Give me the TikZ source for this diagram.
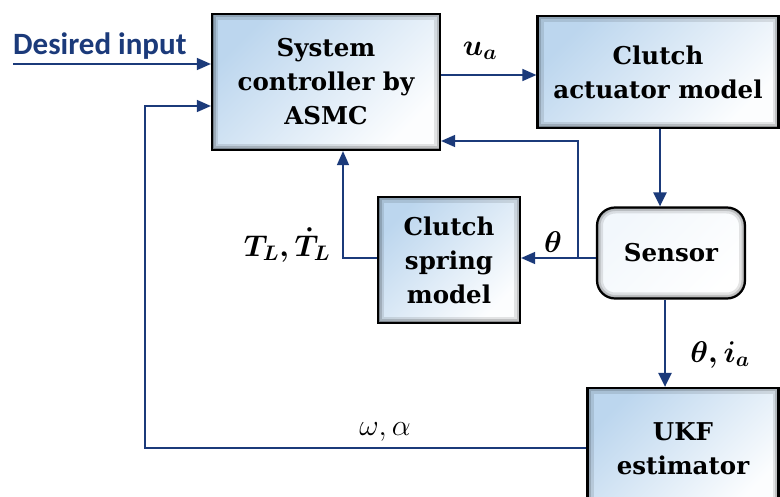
\RequirePackage{fix-cm}
\documentclass[tikz,border=0pt]{standalone}
\usepackage{amsmath}
\usepackage{fontspec}
\newfontfamily\boxfont{DejaVu Serif}
\newfontfamily\desfont{Carlito}
\usetikzlibrary{arrows.meta,calc}
\definecolor{navy}{HTML}{1B3A7A}
\definecolor{boxblue}{HTML}{BCD6EE}
\tikzset{
  blk/.style={draw=black,line width=2.2pt,left color=boxblue,right color=white!96!boxblue,shading angle=45,
    align=center,inner sep=0pt,font=\boxfont\bfseries\fontsize{24.5}{34}\selectfont,
    path picture={
      \draw[line width=12pt,black,opacity=.10] (path picture bounding box.south west) rectangle (path picture bounding box.north east);
      \draw[line width=7pt,black,opacity=.15] (path picture bounding box.south west) rectangle (path picture bounding box.north east);
      \draw[line width=3pt,black,opacity=.25] (path picture bounding box.south west) rectangle (path picture bounding box.north east);}},
  sensbox/.style={draw=black,line width=2.2pt,rounded corners=18pt,left color=white!80!boxblue,right color=white,shading angle=45,
    align=center,inner sep=0pt,font=\boxfont\bfseries\fontsize{24.5}{34}\selectfont,
    path picture={
      \draw[line width=12pt,black,opacity=.10,rounded corners=18pt] (path picture bounding box.south west) rectangle (path picture bounding box.north east);
      \draw[line width=7pt,black,opacity=.15,rounded corners=18pt] (path picture bounding box.south west) rectangle (path picture bounding box.north east);
      \draw[line width=3pt,black,opacity=.25,rounded corners=18pt] (path picture bounding box.south west) rectangle (path picture bounding box.north east);}},
  conn/.style={draw=navy,line width=1.4pt,-{Triangle[length=14pt,width=12pt]}},
  thickconn/.style={draw=navy,line width=2.4pt,-{Triangle[length=14pt,width=13pt]}},
  mathlabel/.style={font=\fontsize{30}{32}\selectfont,inner sep=0pt}
}
\begin{document}
\begin{tikzpicture}[x=1pt,y=-1pt]
\clip (0,0) rectangle (780,497);
\fill[white] (0,0) rectangle (780,497);

\node[blk,minimum width=228pt,minimum height=136pt] (ctrl) at (326,82) {System\\controller by\\ASMC};
\node[blk,minimum width=241pt,minimum height=112pt] (act) at (658,72) {Clutch\\actuator model};
\node[blk,minimum width=142pt,minimum height=126pt] (spring) at (449,260) {Clutch\\spring\\model};
\node[sensbox,minimum width=148pt,minimum height=91pt] (sens) at (671,253) {Sensor};
\node[blk,minimum width=191pt,minimum height=122pt] (ukf) at (683,449) {UKF\\estimator};

% helper coordinates
\coordinate (dstart) at (13,64);
\coordinate (yua) at (0,75);
\coordinate (xas) at (660,0);
\coordinate (br) at (578,258);
\coordinate (brtop) at (578,141);
\coordinate (sp) at (343,258);
\coordinate (xsu) at (665,0);
\coordinate (fb) at (145,448);
\coordinate (fbtop) at (145,106);

% desired input
\node[font=\desfont\bfseries\fontsize{31}{33}\selectfont,text=navy,anchor=west,inner sep=0pt] (din) at (13,46) {Desired input};
\draw[conn] (dstart) -- (dstart -| ctrl.west);

% controller -> actuator
\draw[conn] (ctrl.east |- yua) -- (act.west |- yua);

% label
\node[mathlabel] (lua) at (480,51) {$\boldsymbol{u_a}$};

% actuator -> sensor
\draw[thickconn] (act.south -| xas) -- (sens.north -| xas);

% sensor -> spring, branch to controller
\draw[conn] (sens.west |- br) -- (spring.east |- br);
\draw[conn] (br) -- (brtop) -- (ctrl.east |- brtop);
\node[mathlabel] (lth) at (553,242) {$\boldsymbol{\theta}$};

% spring -> controller
\draw[conn] (spring.west |- sp) -- (sp) -- (sp |- ctrl.south);
\node[mathlabel] (ltl) at (287,245) {$\boldsymbol{T_L,\dot{T}_L}$};

% sensor -> ukf
\draw[thickconn] (sens.south -| xsu) -- (ukf.north -| xsu);
\node[mathlabel] (lthia) at (720,355) {$\boldsymbol{\theta,i_a}$};

% ukf -> controller feedback
\draw[conn] (ukf.west |- fb) -- (fb) -- (fbtop) -- (ctrl.west |- fbtop);
\node[mathlabel] (lwa) at (385,432) {$\omega,\alpha$};
\end{tikzpicture}
\end{document}
